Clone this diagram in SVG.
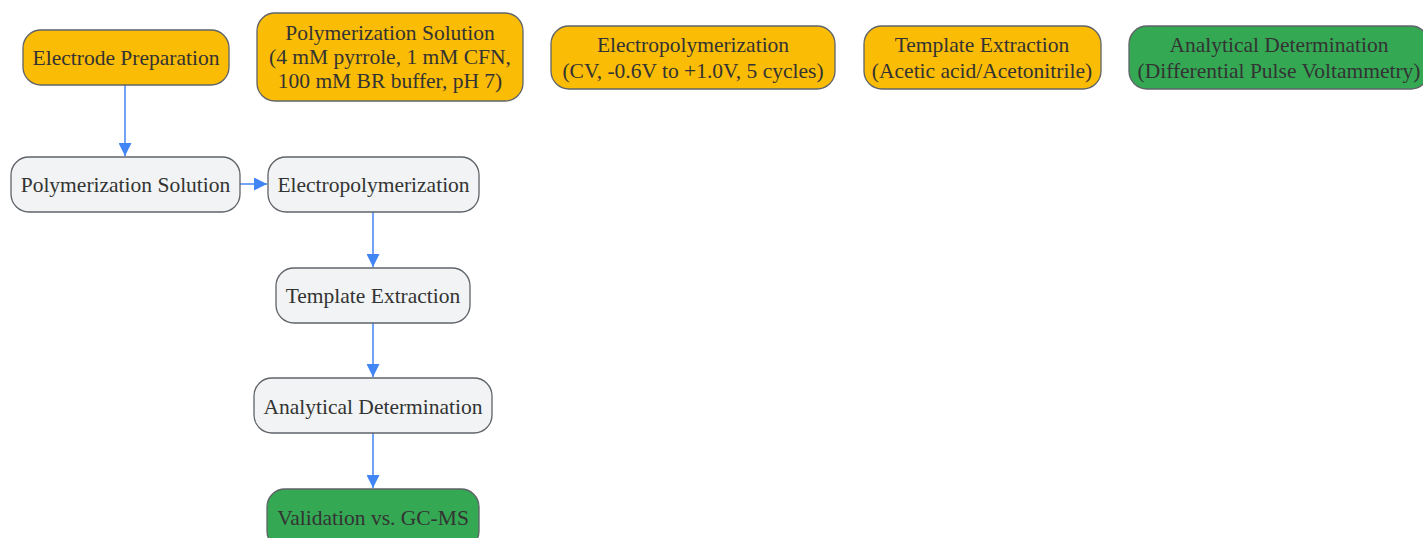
<svg xmlns="http://www.w3.org/2000/svg" width="1423" height="538" viewBox="0 0 1423 538">
<style>
.n rect{stroke:#5f6368;stroke-width:1.3}
.y rect{fill:#fbbc05}
.g rect{fill:#34a853}
.w rect{fill:#f1f3f4}
text{font-family:"Liberation Serif","Times New Roman",serif;font-size:21.5px;fill:#333;text-anchor:middle;dominant-baseline:central}
.e{stroke:#4285f4;stroke-width:1.5;fill:none;marker-end:url(#a)}
</style>
<defs>
<marker id="a" viewBox="0 0 10 10" refX="10" refY="5" markerWidth="13" markerHeight="13" markerUnits="userSpaceOnUse" orient="auto">
<path d="M0,0L10,5L0,10z" fill="#4285f4"/>
</marker>
</defs>
<rect width="1423" height="538" fill="#fff"/>
<g id="edges">
<path class="e" d="M125,85V156"/>
<path class="e" d="M240,184H267"/>
<path class="e" d="M373,212V267"/>
<path class="e" d="M373,323V377"/>
<path class="e" d="M373,433V488"/>
</g>
<g id="legend_prep" class="n y"><rect x="23" y="30" width="206" height="55" rx="18"/><text x="126" y="58">Electrode Preparation</text></g>
<g id="legend_sol" class="n y"><rect x="257" y="13" width="266" height="88" rx="18"/><text x="390" y="33">Polymerization Solution</text><text x="390" y="57">(4 mM pyrrole, 1 mM CFN,</text><text x="390" y="81">100 mM BR buffer, pH 7)</text></g>
<g id="legend_elec" class="n y"><rect x="551" y="26" width="284" height="63" rx="18"/><text x="693" y="45">Electropolymerization</text><text x="693" y="71">(CV, -0.6V to +1.0V, 5 cycles)</text></g>
<g id="legend_tmpl" class="n y"><rect x="864" y="26" width="237" height="63" rx="18"/><text x="982" y="45">Template Extraction</text><text x="982" y="71">(Acetic acid/Acetonitrile)</text></g>
<g id="legend_anal" class="n g"><rect x="1129" y="26" width="300" height="63" rx="18"/><text x="1279" y="45">Analytical Determination</text><text x="1279" y="71">(Differential Pulse Voltammetry)</text></g>
<g id="sol" class="n w"><rect x="11" y="157" width="229" height="55" rx="18"/><text x="125.5" y="185">Polymerization Solution</text></g>
<g id="elec" class="n w"><rect x="268" y="157" width="211" height="55" rx="18"/><text x="373.5" y="185">Electropolymerization</text></g>
<g id="tmpl" class="n w"><rect x="276" y="268" width="194" height="55" rx="18"/><text x="373" y="296">Template Extraction</text></g>
<g id="anal" class="n w"><rect x="254" y="378" width="238" height="55" rx="18"/><text x="373" y="407">Analytical Determination</text></g>
<g id="valid" class="n g"><rect x="267" y="489" width="212" height="60" rx="18"/><text x="373" y="518">Validation vs. GC-MS</text></g>
</svg>
